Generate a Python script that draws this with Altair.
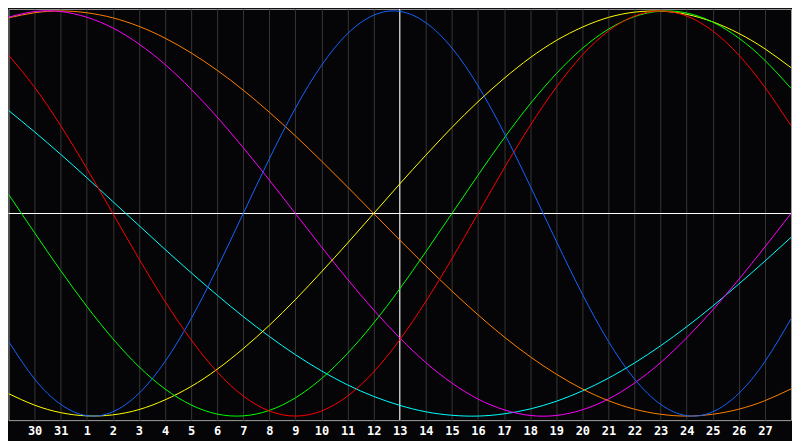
import altair as alt
import pandas as pd

# Day labels for positions 0..30 (position 0 = 29, position 30 = 28)
DAY_LABELS = ["29", "30", "31", "1", "2", "3", "4", "5", "6", "7", "8", "9", "10",
              "11", "12", "13", "14", "15", "16", "17", "18", "19", "20", "21",
              "22", "23", "24", "25", "26", "27", "28"]
LABELED_POSITIONS = list(range(1, 30))
TODAY_POSITION = 15

BLUE = [-0.631, -0.817, -0.942, -0.998, -0.979, -0.888, -0.731, -0.520, -0.270, 0.000,
        0.270, 0.520, 0.731, 0.888, 0.979, 0.998, 0.942, 0.817, 0.631, 0.398, 0.136,
        -0.136, -0.398, -0.631, -0.817, -0.942, -0.998, -0.979, -0.888, -0.731, -0.520]
RED = [0.782, 0.623, 0.434, 0.223, 0.000, -0.223, -0.434, -0.623, -0.782, -0.901, -0.975,
       -1.000, -0.975, -0.901, -0.782, -0.623, -0.434, -0.223, 0.000, 0.223, 0.434,
       0.623, 0.782, 0.901, 0.975, 1.000, 0.975, 0.901, 0.782, 0.623, 0.434]
GREEN = [0.095, -0.095, -0.282, -0.458, -0.618, -0.756, -0.866, -0.945, -0.990, -0.999,
         -0.972, -0.910, -0.815, -0.690, -0.541, -0.372, -0.189, 0.000, 0.189, 0.372,
         0.541, 0.690, 0.815, 0.910, 0.972, 0.999, 0.990, 0.945, 0.866, 0.756, 0.618]
MAGENTA = [0.969, 0.997, 0.997, 0.969, 0.916, 0.837, 0.736, 0.614, 0.476, 0.325, 0.165,
           0.000, -0.165, -0.325, -0.476, -0.614, -0.736, -0.837, -0.916, -0.969, -0.997,
           -0.997, -0.969, -0.916, -0.837, -0.736, -0.614, -0.476, -0.325, -0.165, 0.000]
YELLOW = [-0.889, -0.946, -0.983, -0.999, -0.994, -0.968, -0.920, -0.854, -0.769, -0.667,
          -0.552, -0.425, -0.288, -0.146, 0.000, 0.146, 0.288, 0.425, 0.552, 0.667,
          0.769, 0.854, 0.920, 0.968, 0.994, 0.999, 0.983, 0.946, 0.889, 0.813, 0.720]
ORANGE = [0.966, 0.991, 1.000, 0.991, 0.966, 0.924, 0.866, 0.793, 0.707, 0.609, 0.500,
          0.383, 0.259, 0.131, 0.000, -0.131, -0.259, -0.383, -0.500, -0.609, -0.707,
          -0.793, -0.866, -0.924, -0.966, -0.991, -1.000, -0.991, -0.966, -0.924, -0.866]
CYAN = [0.509, 0.403, 0.292, 0.177, 0.059, -0.059, -0.177, -0.292, -0.403, -0.509,
        -0.607, -0.697, -0.777, -0.846, -0.903, -0.947, -0.979, -0.996, -1.000, -0.989,
        -0.965, -0.927, -0.876, -0.813, -0.738, -0.653, -0.559, -0.457, -0.348, -0.235,
        -0.118]

SERIES_NAMES = ["cyan", "orange", "magenta", "yellow", "green", "red", "blue"]
SERIES_VALUES = [CYAN, ORANGE, MAGENTA, YELLOW, GREEN, RED, BLUE]
SERIES_COLORS = ["#00ffff", "#ff8000", "#ff00ff", "#ffff00", "#00ff00", "#ff0000", "#1464ff"]

rows = []
for order, (name, vals) in enumerate(zip(SERIES_NAMES, SERIES_VALUES)):
    for i, v in enumerate(vals):
        rows.append({"i": i, "v": v, "series": name, "ord": order})
df = pd.DataFrame(rows)

label_expr = "[" + ",".join("'" + s + "'" for s in DAY_LABELS) + "][datum.value]"

x_scale = alt.Scale(domain=[0, len(DAY_LABELS) - 1], nice=False, zero=False)
y_scale = alt.Scale(domain=[-1.02, 1.01], nice=False, zero=False)

x_axis = alt.Axis(values=LABELED_POSITIONS, labelExpr=label_expr, grid=True,
                  gridColor="#363636", gridWidth=1, ticks=False, domain=False,
                  labelColor="white", labelFont="DejaVu Sans Mono",
                  labelFontWeight="bold", labelFontSize=12, labelPadding=5,
                  labelFlush=False, labelOverlap=False, title=None)

lines = alt.Chart(df).mark_line(strokeWidth=1, interpolate="natural", clip=True).encode(
    x=alt.X("i:Q", scale=x_scale, axis=x_axis),
    y=alt.Y("v:Q", scale=y_scale, axis=None),
    color=alt.Color("series:N", scale=alt.Scale(domain=SERIES_NAMES, range=SERIES_COLORS),
                    legend=None),
    detail="series:N",
    order=alt.Order("ord:Q"),
)

vrule = alt.Chart(pd.DataFrame({"i": [TODAY_POSITION]})).mark_rule(
    color="white", strokeWidth=1).encode(x=alt.X("i:Q", scale=x_scale, axis=x_axis))
hrule = alt.Chart(pd.DataFrame({"v": [0]})).mark_rule(
    color="white", strokeWidth=1).encode(y=alt.Y("v:Q", scale=y_scale, axis=None))

chart = alt.layer(vrule, hrule, lines).properties(
    width=784, height=412, background="#050507",
    padding={"left": 0.5, "top": 0.5, "right": 1, "bottom": 20},
    autosize=alt.AutoSizeParams(type="none"),
).configure_view(stroke="#a0a0a0", strokeWidth=1, fill="#050507")

chart.save("out.html", embed_options={"renderer": "svg", "actions": False})
